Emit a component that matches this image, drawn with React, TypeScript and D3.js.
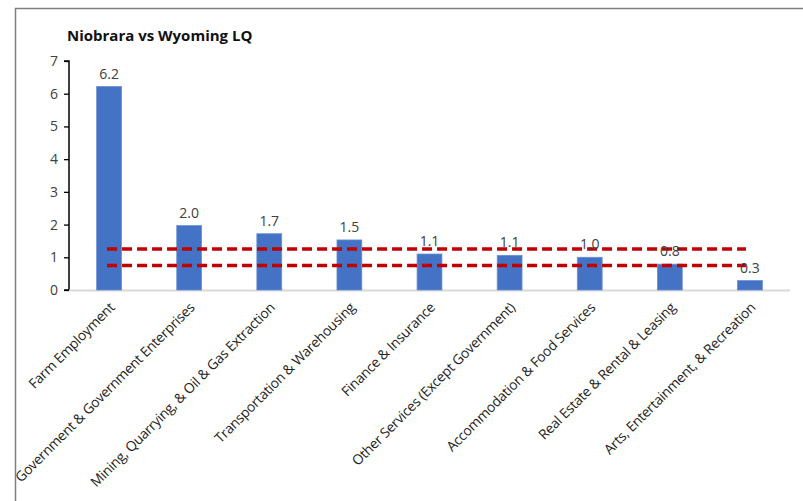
import React, { useEffect, useRef } from "react";
import * as d3 from "d3";

const categories = [
  "Farm Employment",
  "Government & Government Enterprises",
  "Mining, Quarrying, & Oil & Gas Extraction",
  "Transportation & Warehousing",
  "Finance & Insurance",
  "Other Services (Except Government)",
  "Accommodation & Food Services",
  "Real Estate & Rental & Leasing",
  "Arts, Entertainment, & Recreation",
];
const lqValues = [6.22, 1.97, 1.72, 1.53, 1.1, 1.06, 1.0, 0.79, 0.29];
const upperBand = 1.25;
const lowerBand = 0.75;
const yTicks = [0, 1, 2, 3, 4, 5, 6, 7];

const W = 803;
const H = 501;

const App: React.FC = () => {
  const ref = useRef<SVGSVGElement | null>(null);

  useEffect(() => {
    const svg = d3.select(ref.current);
    svg.selectAll("*").remove();

    const left = 69;
    const right = 790;
    const top = 61;
    const bottom = 290;
    const font = "'Open Sans', 'Liberation Sans', sans-serif";

    // frame
    svg
      .append("path")
      .attr("d", `M15.5,${H} L15.5,8.5 L${W},8.5`)
      .attr("fill", "none")
      .attr("stroke", "#808080")
      .attr("stroke-width", 1.5);

    svg
      .append("text")
      .attr("x", 67)
      .attr("y", 41)
      .attr("font-family", font)
      .attr("font-size", 15)
      .attr("font-weight", "bold")
      .attr("fill", "#111")
      .text("Niobrara vs Wyoming LQ");

    const x = d3.scaleBand<string>().domain(categories).range([left, right]).paddingInner(0.69).paddingOuter(0.345);
    const y = d3.scaleLinear().domain([0, 7]).range([bottom, top]);

    // y axis
    const yAxis = svg
      .append("g")
      .attr("transform", `translate(${left},0)`)
      .call(d3.axisLeft(y).tickValues(yTicks).tickSize(5).tickFormat(d3.format("d")));
    yAxis.select(".domain").attr("stroke", "#000").attr("stroke-width", 1.5).attr("d", `M-5,${top}H0V${bottom}H-5`);
    yAxis.selectAll(".tick line").attr("stroke", "#000").attr("stroke-width", 1.3);
    yAxis
      .selectAll(".tick text")
      .attr("font-family", font)
      .attr("font-size", 14)
      .attr("fill", "#404040")
      .attr("x", -11);

    // baseline
    svg
      .append("line")
      .attr("x1", left)
      .attr("x2", right)
      .attr("y1", y(0) + 0.5)
      .attr("y2", y(0) + 0.5)
      .attr("stroke", "#d9d9d9")
      .attr("stroke-width", 2);

    const bars = svg.append("g");
    bars
      .selectAll("rect")
      .data(lqValues)
      .enter()
      .append("rect")
      .attr("x", (_, i) => x(categories[i])!)
      .attr("width", x.bandwidth())
      .attr("y", d => y(d))
      .attr("height", d => y(0) - y(d))
      .attr("fill", "#4472C4")
      .attr("stroke", "#6a8fd3")
      .attr("stroke-width", 0.8);

    // reference band lines
    const x0 = x(categories[0])! + x.bandwidth() / 2;
    const x1 = x(categories[categories.length - 1])! + x.bandwidth() / 2;
    [upperBand, lowerBand].forEach(v => {
      svg
        .append("line")
        .attr("x1", x0 - 2)
        .attr("x2", x1 - 4)
        .attr("y1", y(v))
        .attr("y2", y(v))
        .attr("stroke", "#C00000")
        .attr("stroke-width", 3.5)
        .attr("stroke-dasharray", "10,5");
    });

    // value labels
    svg
      .append("g")
      .selectAll("text")
      .data(lqValues)
      .enter()
      .append("text")
      .attr("x", (_, i) => x(categories[i])! + x.bandwidth() / 2)
      .attr("y", d => y(d) - 8)
      .attr("text-anchor", "middle")
      .attr("font-family", font)
      .attr("font-size", 14)
      .attr("fill", "#404040")
      .text(d => d.toFixed(1));

    // category labels
    svg
      .append("g")
      .selectAll("text")
      .data(categories)
      .enter()
      .append("text")
      .attr("transform", d => `translate(${x(d)! + x.bandwidth() / 2 + 3},${bottom + 15}) rotate(-45)`)
      .attr("text-anchor", "end")
      .attr("dy", "0.35em")
      .attr("font-family", font)
      .attr("font-size", 13.8)
      .attr("letter-spacing", -0.25)
      .attr("fill", "#222")
      .text(d => d);
  }, []);

  return (
    <svg
      ref={ref}
      width={W}
      height={H}
      style={{ position: "absolute", left: 0, top: 0, background: "#fff" }}
    ></svg>
  );
};

export default App;
